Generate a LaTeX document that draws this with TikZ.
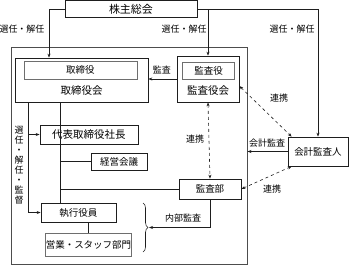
\documentclass[tikz,border=0pt]{standalone}
\usepackage{fontspec}
\setmainfont{Noto Sans CJK JP}
\usepackage{xcolor}
\usepackage{tikz}
\usetikzlibrary{arrows.meta, positioning, calc, decorations.pathreplacing}
\definecolor{lineblack}{RGB}{30, 30, 30}
\definecolor{boxgray}{RGB}{110, 110, 110}
\tikzstyle{block} = [rectangle, draw=lineblack, fill=white, inner sep=0pt, line width=0.7pt, font=\fontsize{9.5}{11}\selectfont]
\tikzstyle{subblock} = [rectangle, draw=boxgray, fill=white, inner sep=0pt, line width=0.8pt, font=\fontsize{9.5}{11}\selectfont]
\tikzstyle{lbl} = [inner sep=0pt, font=\fontsize{9}{10}\selectfont]
\tikzstyle{arrow} = [-{Stealth[length=4pt, width=3pt]}, line width=0.6pt, draw=lineblack]
\tikzstyle{link} = [{Stealth[length=4pt, width=3pt]}-{Stealth[length=4pt, width=3pt]}, dashed, line width=0.6pt, draw=lineblack]
\tikzstyle{wire} = [line width=0.6pt, draw=lineblack]

\begin{document}
\begin{tikzpicture}[x=1pt, y=-1pt]
    \useasboundingbox (0,0) rectangle (349,266);

    % Shareholders meeting
    \node[block, minimum width=132pt, minimum height=17pt, font=\fontsize{11}{12}\selectfont] (soukai) at (131,9) {株主総会};

    % Company frame
    \node[draw=boxgray!70!black, line width=0.9pt, minimum width=236pt, minimum height=217pt, inner sep=0pt] (company) at (129,155.5) {};

    % Board of directors
    \node[block, minimum width=133pt, minimum height=44pt] (torikai) at (81.5,80) {};
    \node[subblock, minimum width=113pt, minimum height=18pt] (torishimari) at (80.5,70) {取締役};
    \node[lbl, font=\fontsize{10.5}{12}\selectfont] (torikaitext) at (81.5,91) {取締役会};

    % Audit board
    \node[block, minimum width=62pt, minimum height=46pt] (kansakai) at (208,79) {};
    \node[subblock, minimum width=52pt, minimum height=17pt] (kansayaku) at (208.5,70.5) {監査役};
    \node[lbl, font=\fontsize{10.5}{12}\selectfont] (kansakaitext) at (208,91) {監査役会};

    % Executive side
    \node[block, minimum width=98pt, minimum height=19pt, font=\fontsize{10.5}{12}\selectfont] (shachou) at (89,134.5) {代表取締役社長};
    \node[block, minimum width=56pt, minimum height=17pt] (keiei) at (119,161.5) {経営会議};
    \node[block, minimum width=62pt, minimum height=20pt] (kansabu) at (210,189) {監査部};
    \node[block, minimum width=75pt, minimum height=19pt] (shikko) at (78.5,212.5) {執行役員};
    \node[subblock, minimum width=83pt, minimum height=23pt] (eigyo) at (88.5,244.5) {営業・スタッフ部門};

    % Accounting auditor
    \node[block, minimum width=60pt, minimum height=29pt] (kaikei) at (318,151.5) {会計監査人};

    % Appointment lines from the shareholders
    \draw[arrow] (soukai.west) -| (torikai.north -| 49,0);
    \draw[arrow] (soukai.east) -| (kaikei.north);
    \coordinate (midtop) at (soukai.east -| kansakai.north);
    \draw[arrow] (midtop) -- (kansakai.north);
    \node[lbl] (sennin1) at (22,29) {選任・解任};
    \node[lbl] (sennin2) at (184,29) {選任・解任};
    \node[lbl] (sennin3) at (292,29) {選任・解任};

    % Audit of the board
    \draw[arrow] (kansakai.west) -- (kansakai.west -| torikai.east);
    \node[lbl] (kansa) at (162,70) {監査};

    % Trunk below the board
    \draw[wire] (torikai.south -| 60,0) -- (shikko.north -| 60,0);
    \draw[wire] (keiei.west -| 60,0) -- (keiei.west);
    \draw[wire] (kansabu.west -| 60,0) -- (kansabu.west);
    \draw[wire] (shikko.south -| eigyo.north) -- (eigyo.north);

    % Appointment and supervision
    \draw[wire] (torikai.south -| 28,0) -- (28,212.5);
    \draw[arrow] (28,212.5) -- (shikko.west);
    \draw[arrow] (shachou.west -| 28,0) -- (shachou.west);
    \node[lbl, align=center] (kantoku) at (19,165) {選\\任\\・\\解\\任\\・\\監\\督};

    % Internal audit
    \draw[decorate, decoration={brace, amplitude=5pt}, wire] (143,203) -- (143,252);
    \coordinate (bracetip) at (149,227.5);
    \draw[arrow] (kansabu.south) |- (bracetip);
    \node[lbl] (naibu) at (183,218) {内部監査};

    % Cooperation
    \draw[link] (kansakai.south) -- (kansabu.north);
    \node[lbl] (renkei1) at (195,139) {連携};
    \draw[link] ([yshift=-7pt]kansakai.east) -- ([xshift=4pt]kaikei.north west);
    \node[lbl] (renkei2) at (279,98) {連携};
    \draw[link] (kansabu.east) -- ([xshift=4pt]kaikei.south west);
    \node[lbl] (renkei3) at (272,189) {連携};

    % Accounting audit
    \draw[arrow] (kaikei.west) -- (kaikei.west -| company.east);
    \node[lbl] (kaikeikansa) at (267,143) {会計監査};
\end{tikzpicture}
\end{document}
